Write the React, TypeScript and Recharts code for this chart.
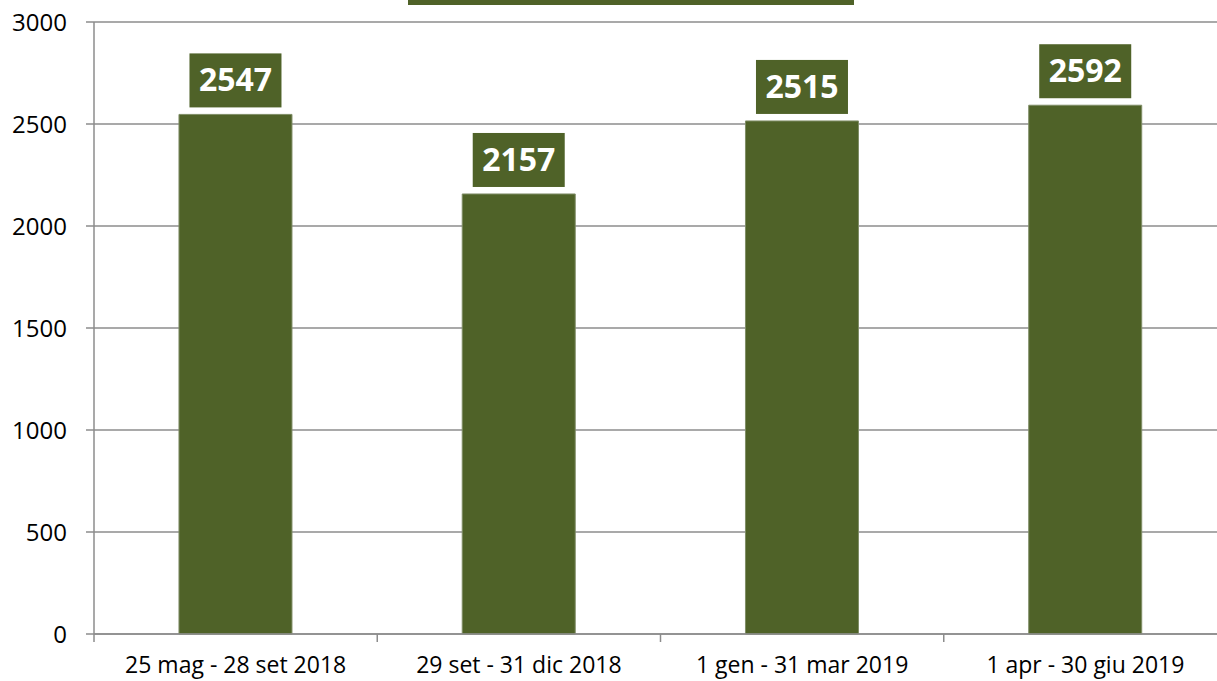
import { BarChart, Bar, XAxis, YAxis, CartesianGrid, LabelList } from "recharts";

const periods = [
  "25 mag - 28 set 2018",
  "29 set - 31 dic 2018",
  "1 gen - 31 mar 2019",
  "1 apr - 30 giu 2019",
];
const counts = [2547, 2157, 2515, 2592];
const yTicks = [0, 500, 1000, 1500, 2000, 2500, 3000];

const data = periods.map((period, i) => ({ period, count: counts[i] }));

const GREEN = "#4F6228";
const GRID = "#8c8c8c";
const FONT = "'Open Sans', sans-serif";

// layout
const CHART_W = 1240;
const CHART_H = 681;
const Y_AXIS_W = 94;
const MARGIN = { top: 22, right: 13, bottom: 7, left: 0 };
const PLOT_W = CHART_W - MARGIN.left - MARGIN.right - Y_AXIS_W;

const PeriodTick = ({ x, y, payload }: any) => {
  const half = PLOT_W / periods.length / 2;
  return (
    <g>
      <line x1={x - half} x2={x - half} y1={y - 8} y2={y} stroke={GRID} strokeWidth={1.5} />
      <text x={x} y={y + 31} textAnchor="middle" fill="#000" fontSize={23} fontFamily={FONT}>
        {payload.value}
      </text>
    </g>
  );
};

const ValueBox = ({ x, y, width, value }: any) => {
  const cx = x + width / 2;
  const boxW = 92;
  const boxH = 54;
  const bottom = y - 7;
  return (
    <g>
      <rect x={cx - boxW / 2} y={bottom - boxH} width={boxW} height={boxH} fill={GREEN} />
      <text
        x={cx}
        y={bottom - boxH / 2 + 11}
        textAnchor="middle"
        fill="#fff"
        fontSize={32}
        fontWeight={700}
        fontFamily={FONT}
      >
        {value}
      </text>
    </g>
  );
};

export default function App() {
  return (
    <div
      style={{
        position: "absolute",
        left: 0,
        top: 0,
        width: 1217,
        height: 681,
        overflow: "hidden",
        background: "#fff",
      }}
    >
      {/* title box, mostly cut off at the top */}
      <div
        style={{
          position: "absolute",
          left: 408,
          top: 0,
          width: 446,
          height: 5,
          background: GREEN,
        }}
      />
      <BarChart
        width={CHART_W}
        height={CHART_H}
        data={data}
        margin={MARGIN}
        barCategoryGap="30%"
      >
        <CartesianGrid vertical={false} stroke={GRID} strokeWidth={1.5} />
        <XAxis
          dataKey="period"
          height={40}
          tickSize={8}
          tickMargin={0}
          tickLine={false}
          axisLine={{ stroke: GRID, strokeWidth: 1.5 }}
          tick={<PeriodTick />}
          interval={0}
        />
        <YAxis
          width={Y_AXIS_W}
          domain={[0, 3000]}
          ticks={yTicks}
          interval={0}
          tickSize={8}
          tickMargin={19}
          tickLine={{ stroke: GRID, strokeWidth: 1.5 }}
          axisLine={{ stroke: GRID, strokeWidth: 1.5 }}
          tick={{ fill: "#000", fontSize: 24, fontFamily: FONT }}
        />
        <Bar
          dataKey="count"
          fill={GREEN}
          stroke="#7f8d66"
          strokeWidth={1}
          isAnimationActive={false}
        >
          <LabelList dataKey="count" content={<ValueBox />} />
        </Bar>
      </BarChart>
    </div>
  );
}
